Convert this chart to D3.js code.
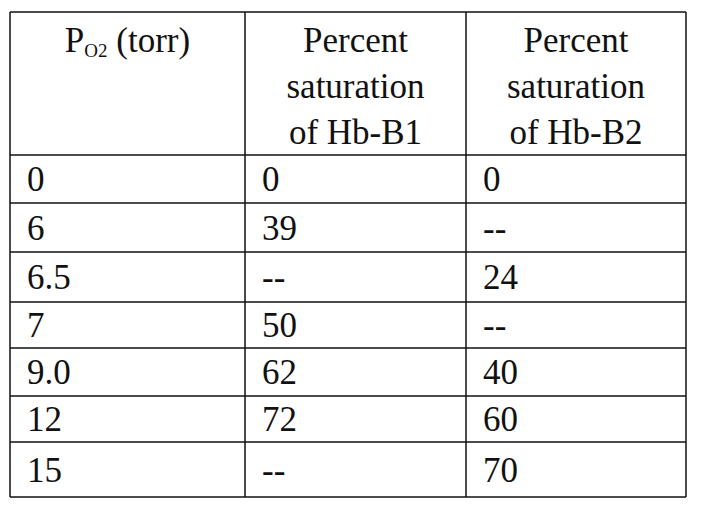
<!DOCTYPE html>
<html><head><meta charset="utf-8">
<script src="https://cdn.jsdelivr.net/npm/d3@7"></script>
<style>body{margin:0;background:#fff}</style>
</head><body><svg width="708" height="516"></svg>
<script>
"use strict";
// table contents
const po2 = ["0", "6", "6.5", "7", "9.0", "12", "15"];
const hbB1 = ["0", "39", "--", "50", "62", "72", "--"];
const hbB2 = ["0", "--", "24", "--", "40", "60", "70"];
const headers = [["P|O2| (torr)"], ["Percent", "saturation", "of Hb-B1"], ["Percent", "saturation", "of Hb-B2"]];

const svg = d3.select("svg");
const colEdges = [10, 245, 466, 686];
const rowEdges = [12, 155, 203, 252, 302, 348, 396, 442, 497];

const g = svg.append("g")
  .attr("font-family", "'Liberation Serif', 'DejaVu Serif', 'Times New Roman', serif")
  .attr("font-size", 35).attr("fill", "#111");

// body cells
const cols = [po2, hbB1, hbB2];
cols.forEach((col, ci) => {
  g.selectAll(null).data(col).join("text")
    .attr("x", colEdges[ci] + 17)
    .attr("y", (d, i) => (rowEdges[i + 1] + rowEdges[i + 2]) / 2 + 12)
    .text(d => d);
});

// headers
headers.forEach((lines, ci) => {
  const cx = (colEdges[ci] + colEdges[ci + 1]) / 2;
  lines.forEach((ln, li) => {
    const t = g.append("text").attr("x", cx).attr("y", 52 + li * 46).attr("text-anchor", "middle");
    if (ln.includes("|")) {
      const p = ln.split("|");
      t.append("tspan").text(p[0]);
      t.append("tspan").text(p[1]).attr("font-size", 19).attr("dy", 5);
      t.append("tspan").text(p[2]).attr("dy", -5);
    } else t.text(ln);
  });
});

// grid lines
g.selectAll("line.h").data(rowEdges).join("line").attr("class", "h")
  .attr("x1", colEdges[0]).attr("x2", colEdges[3]).attr("y1", d => d).attr("y2", d => d)
  .attr("stroke", "#111").attr("stroke-width", 1.5);
g.selectAll("line.v").data(colEdges).join("line").attr("class", "v")
  .attr("y1", rowEdges[0]).attr("y2", rowEdges[rowEdges.length - 1]).attr("x1", d => d).attr("x2", d => d)
  .attr("stroke", "#111").attr("stroke-width", 1.5);
</script></body></html>
